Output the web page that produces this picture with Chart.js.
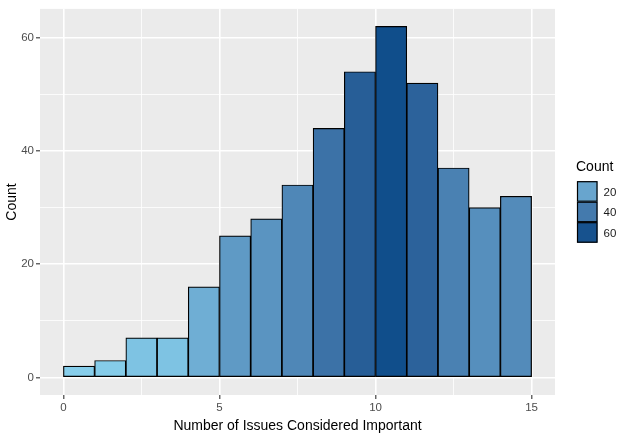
<!DOCTYPE html>
<html>
<head>
<meta charset="utf-8">
<script src="https://cdn.jsdelivr.net/npm/chart.js@4"></script>
<style>
  html, body { margin: 0; padding: 0; background: #fff; }
  #wrap { width: 624px; height: 436px; }
</style>
</head>
<body>
<div id="wrap"><canvas id="histChart" width="624" height="436"></canvas></div>
<script>
// histogram bins (width 1) and counts
const binStarts = [0, 1, 2, 3, 4, 5, 6, 7, 8, 9, 10, 11, 12, 13, 14];
const counts = [2, 3, 7, 7, 16, 25, 28, 34, 44, 54, 62, 52, 37, 30, 32];
const xMajorTicks = [0, 5, 10, 15];
const xMinorTicks = [2.5, 7.5, 12.5];
const yMajorTicks = [0, 20, 40, 60];
const yMinorTicks = [10, 30, 50];
const legendBreaks = [20, 40, 60];

// colour scale like scale_fill_gradient(low = skyblue, high = dodgerblue4), in Lab
const lowCol = [135, 206, 235];
const highCol = [16, 78, 139];

function toLin(c) { c /= 255; return c <= 0.04045 ? c / 12.92 : Math.pow((c + 0.055) / 1.055, 2.4); }
function fromLin(c) { c = c <= 0.0031308 ? 12.92 * c : 1.055 * Math.pow(c, 1 / 2.4) - 0.055; return Math.max(0, Math.min(255, Math.round(c * 255))); }
function rgb2lab(rgb) {
  const r = toLin(rgb[0]), g = toLin(rgb[1]), b = toLin(rgb[2]);
  let x = (0.4124 * r + 0.3576 * g + 0.1805 * b) / 0.95047;
  let y = (0.2126 * r + 0.7152 * g + 0.0722 * b);
  let z = (0.0193 * r + 0.1192 * g + 0.9505 * b) / 1.08883;
  const f = t => t > 0.008856 ? Math.cbrt(t) : 7.787 * t + 16 / 116;
  x = f(x); y = f(y); z = f(z);
  return [116 * y - 16, 500 * (x - y), 200 * (y - z)];
}
function lab2rgb(lab) {
  const fy = (lab[0] + 16) / 116, fx = fy + lab[1] / 500, fz = fy - lab[2] / 200;
  const inv = t => t * t * t > 0.008856 ? t * t * t : (t - 16 / 116) / 7.787;
  const x = inv(fx) * 0.95047, y = inv(fy), z = inv(fz) * 1.08883;
  const r = 3.2406 * x - 1.5372 * y - 0.4986 * z;
  const g = -0.9689 * x + 1.8758 * y + 0.0415 * z;
  const b = 0.0557 * x - 0.2040 * y + 1.0570 * z;
  return 'rgb(' + fromLin(r) + ',' + fromLin(g) + ',' + fromLin(b) + ')';
}
const lowLab = rgb2lab(lowCol), highLab = rgb2lab(highCol);
const cMin = Math.min(...counts), cMax = Math.max(...counts);
function fillFor(v) {
  const t = (v - cMin) / (cMax - cMin);
  return lab2rgb([0, 1, 2].map(i => lowLab[i] + t * (highLab[i] - lowLab[i])));
}

const barData = binStarts.map((s, i) => ({ x: s + 0.5, y: counts[i] }));

const panelBg = {
  id: 'panelBg',
  beforeDraw(chart) {
    const a = chart.chartArea, ctx = chart.ctx;
    ctx.save();
    ctx.fillStyle = '#EBEBEB';
    ctx.fillRect(a.left, a.top, a.right - a.left, a.bottom - a.top);
    ctx.restore();
  }
};

// ggplot-style legend: title + stacked keys
const fillLegend = {
  id: 'fillLegend',
  afterDraw(chart) {
    const ctx = chart.ctx;
    const left = chart.chartArea.right + 22;
    const mid = (chart.chartArea.top + chart.chartArea.bottom) / 2;
    const key = 20.5;
    const top = mid - key * legendBreaks.length / 2 + 10;
    ctx.save();
    ctx.fillStyle = '#000';
    ctx.font = '14px "Liberation Sans", Arial, sans-serif';
    ctx.textBaseline = 'alphabetic';
    ctx.fillText('Count', left - 1, top - 10);
    legendBreaks.forEach((b, i) => {
      const y = top + i * key;
      ctx.fillStyle = fillFor(b);
      ctx.fillRect(left, y, key, key);
      ctx.strokeStyle = '#000';
      ctx.lineWidth = 1.2;
      ctx.strokeRect(left + 0.5, y + 0.5, key - 1, key - 1);
      ctx.fillStyle = '#1A1A1A';
      ctx.font = '11.5px "Liberation Sans", Arial, sans-serif';
      ctx.textBaseline = 'middle';
      ctx.fillText(String(b), left + key + 6, y + key / 2 + 1);
    });
    ctx.restore();
  }
};

const tickVal = c => (c && c.tick) ? c.tick.value : null;
const isMajor = (list, v) => list.indexOf(v) !== -1;

new Chart(document.getElementById('histChart'), {
  type: 'bar',
  data: {
    datasets: [{
      data: barData,
      backgroundColor: counts.map(fillFor),
      borderColor: '#000',
      borderWidth: 1.2,
      borderSkipped: false,
      barPercentage: 1,
      categoryPercentage: 1
    }]
  },
  options: {
    responsive: false,
    animation: false,
    layout: { padding: { top: 5, right: 69, left: 0, bottom: 0 } },
    plugins: { legend: { display: false }, tooltip: { enabled: false } },
    scales: {
      x: {
        type: 'linear',
        min: -0.75,
        max: 15.75,
        offset: false,
        afterBuildTicks(scale) {
          scale.ticks = xMajorTicks.concat(xMinorTicks).sort((a, b) => a - b).map(v => ({ value: v }));
        },
        afterFit(scale) { scale.height = 41; },
        border: { display: false },
        grid: {
          offset: false,
          color: '#FFFFFF',
          lineWidth: c => isMajor(xMajorTicks, tickVal(c)) ? 1.6 : 0.8,
          tickColor: c => isMajor(xMajorTicks, tickVal(c)) ? '#333333' : 'rgba(0,0,0,0)',
          tickLength: 4,
          tickWidth: 1.1
        },
        ticks: {
          autoSkip: false,
          maxRotation: 0,
          padding: 2,
          color: '#4D4D4D',
          font: { family: '"Liberation Sans", Arial, sans-serif', size: 11.5 },
          callback: v => isMajor(xMajorTicks, v) ? String(v) : ''
        },
        title: {
          display: true,
          text: 'Number of Issues Considered Important',
          color: '#000',
          padding: { top: 1, bottom: 1 },
          font: { family: '"Liberation Sans", Arial, sans-serif', size: 14 }
        }
      },
      y: {
        min: -3.1,
        max: 65.1,
        afterBuildTicks(scale) {
          scale.ticks = yMajorTicks.concat(yMinorTicks).sort((a, b) => a - b).map(v => ({ value: v }));
        },
        afterFit(scale) { scale.width = 40; },
        border: { display: false },
        grid: {
          color: '#FFFFFF',
          lineWidth: c => isMajor(yMajorTicks, tickVal(c)) ? 1.6 : 0.8,
          tickColor: c => isMajor(yMajorTicks, tickVal(c)) ? '#333333' : 'rgba(0,0,0,0)',
          tickLength: 4,
          tickWidth: 1.1
        },
        ticks: {
          autoSkip: false,
          padding: 2,
          color: '#4D4D4D',
          font: { family: '"Liberation Sans", Arial, sans-serif', size: 11.5 },
          callback: v => isMajor(yMajorTicks, v) ? String(v) : ''
        },
        title: {
          display: true,
          text: 'Count',
          color: '#000',
          padding: { bottom: 2 },
          font: { family: '"Liberation Sans", Arial, sans-serif', size: 14 }
        }
      }
    }
  },
  plugins: [panelBg, fillLegend]
});
</script>
</body>
</html>
